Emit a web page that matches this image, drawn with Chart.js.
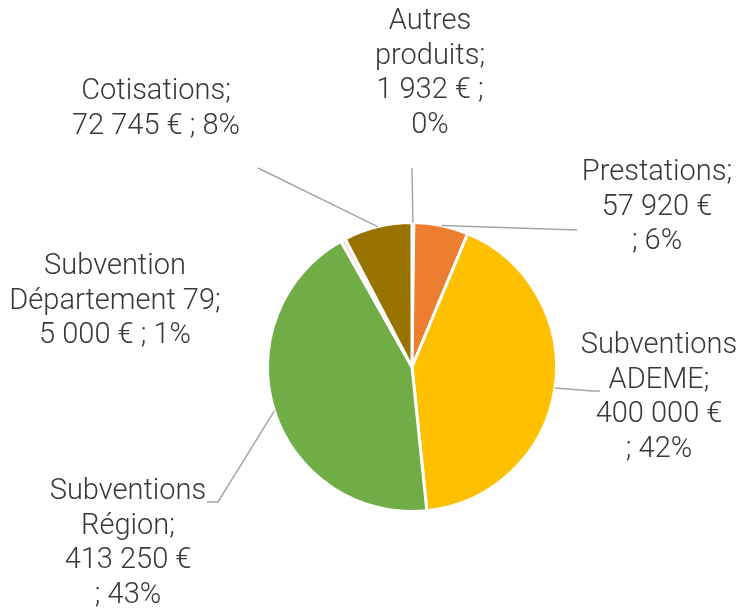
<!DOCTYPE html>
<html>
<head>
<meta charset="utf-8">
<script src="https://cdn.jsdelivr.net/npm/chart.js@4"></script>
<style>
  html, body { margin: 0; padding: 0; background: #fff; }
  #wrap { width: 743px; height: 613px; }
</style>
</head>
<body>
<div id="wrap"><canvas id="pieChart"></canvas></div>
<script>
// data
const categories = ["Autres produits", "Prestations", "Subventions ADEME", "Subventions Région", "Subvention Département 79", "Cotisations"];
const amounts = [1932, 57920, 400000, 413250, 5000, 72745];
const percentLabels = ["0%", "6%", "42%", "43%", "1%", "8%"];
const amountLabels = ["1 932 €", "57 920 €", "400 000 €", "413 250 €", "5 000 €", "72 745 €"];

// how each label is broken into lines (same wording as the chart)
const labelLines = [
  ["Autres", "produits;", amountLabels[0] + " ;", percentLabels[0]],
  ["Prestations;", amountLabels[1], "; " + percentLabels[1]],
  ["Subventions", "ADEME;", amountLabels[2], "; " + percentLabels[2]],
  ["Subventions", "Région;", amountLabels[3], "; " + percentLabels[3]],
  ["Subvention", "Département 79;", amountLabels[4] + " ; " + percentLabels[4]],
  ["Cotisations;", amountLabels[5] + " ; " + percentLabels[5]]
];

const colors = ["#5B9BD5", "#ED7D31", "#FFC000", "#70AD47", "#F3D6D6", "#997300"];

// label placement (centre x, first line centre y) and leader line end points
const labelPos = [[430, 22], [657, 173], [659, 346], [128, 492], [115, 267], [156, 92]];
const leaderEnds = [
  [[412, 168]],
  [[577, 230]],
  [[593, 391], [600, 391]],
  [[218, 502], [207, 502]],
  null,
  [[258, 168]]
];

const outsideLabels = {
  id: 'outsideLabels',
  afterDatasetsDraw(chart) {
    const ctx = chart.ctx;
    const arcs = chart.getDatasetMeta(0).data;
    ctx.save();
    ctx.strokeStyle = "#A6A6A6";
    ctx.lineWidth = 1.5;
    arcs.forEach((arc, i) => {
      const ends = leaderEnds[i];
      if (!ends) return;
      const p = arc.getProps(['x', 'y', 'startAngle', 'endAngle', 'outerRadius'], true);
      const mid = (p.startAngle + p.endAngle) / 2;
      ctx.beginPath();
      ctx.moveTo(p.x + Math.cos(mid) * p.outerRadius, p.y + Math.sin(mid) * p.outerRadius);
      ends.forEach(pt => ctx.lineTo(pt[0], pt[1]));
      ctx.stroke();
    });

    ctx.fillStyle = "#383838";
    ctx.font = "300 29px Roboto, 'Liberation Sans', sans-serif";
    ctx.textAlign = "center";
    ctx.textBaseline = "middle";
    labelLines.forEach((lines, i) => {
      const [cx, cy] = labelPos[i];
      lines.forEach((t, k) => ctx.fillText(t, cx, cy + k * 34.5));
    });
    ctx.restore();
  }
};

const ctx = document.getElementById("pieChart").getContext('2d');

new Chart(ctx, {
  type: 'pie',
  data: {
    labels: categories,
    datasets: [{
      data: amounts,
      backgroundColor: colors,
      borderColor: "#FFFFFF",
      borderWidth: 3
    }]
  },
  options: {
    responsive: true,
    maintainAspectRatio: false,
    animation: false,
    layout: {
      padding: { left: 266, right: 185, top: 221, bottom: 100 }
    },
    plugins: {
      legend: { display: false },
      tooltip: { enabled: false }
    }
  },
  plugins: [outsideLabels]
});
</script>
</body>
</html>
